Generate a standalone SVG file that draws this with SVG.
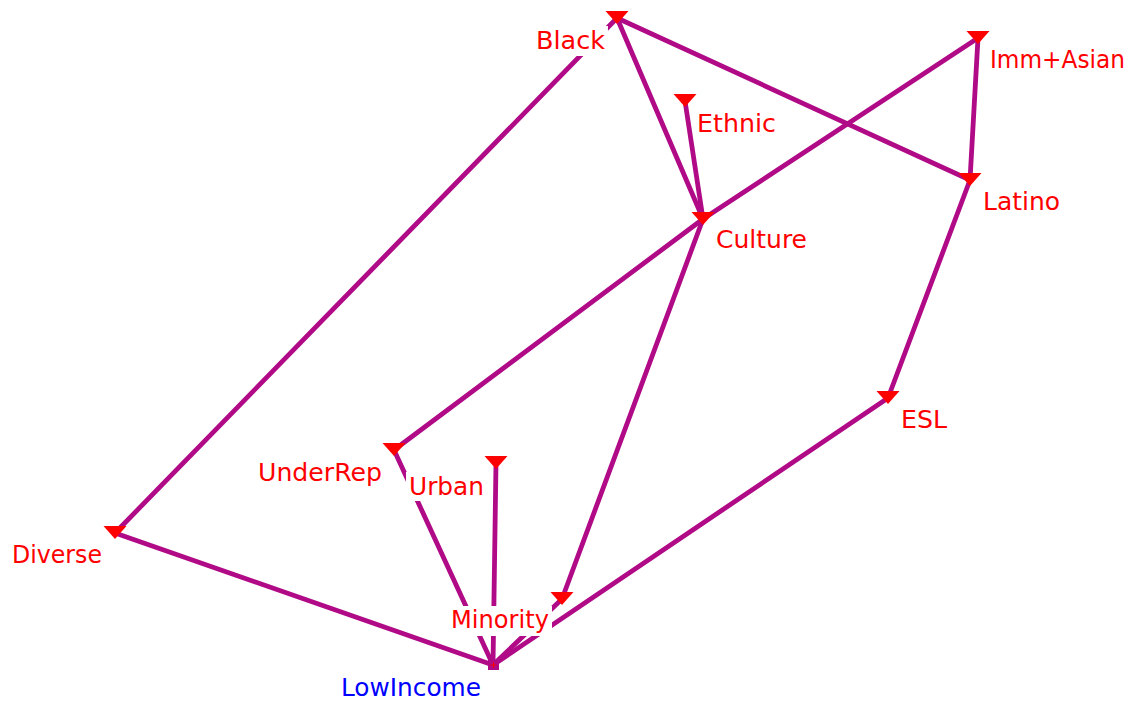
<svg xmlns="http://www.w3.org/2000/svg" width="1135" height="703" viewBox="0 0 1135 703">
<style>
.e{stroke:#b00a87;stroke-width:4.8;stroke-linecap:round;fill:none}
.t{fill:#ff0000;stroke:none}
.bg{fill:#ffffff;stroke:none}
.l{font-family:"DejaVu Sans","Liberation Sans",sans-serif;font-size:25px;fill:#ff0000}
.b{fill:#0000ff}
</style>
<defs>
<path id="tri" d="M-11.5,-7 L11.5,-7 L0,6 Z" class="t"/>
</defs>
<rect width="1135" height="703" fill="#ffffff"/>
<g id="edges">
<line class="e" x1="617" y1="18" x2="115" y2="533"/>
<line class="e" x1="617" y1="18" x2="703" y2="219"/>
<line class="e" x1="617" y1="18" x2="970" y2="180"/>
<line class="e" x1="685" y1="101" x2="703" y2="219"/>
<line class="e" x1="978" y1="38" x2="703" y2="219"/>
<line class="e" x1="703" y1="219" x2="394" y2="450"/>
<line class="e" x1="978" y1="38" x2="970" y2="180"/>
<line class="e" x1="970" y1="180" x2="888" y2="398"/>
<line class="e" x1="888" y1="398" x2="493" y2="665"/>
<line class="e" x1="703" y1="219" x2="562" y2="599"/>
<line class="e" x1="394" y1="450" x2="493" y2="665"/>
<line class="e" x1="496" y1="463" x2="493" y2="665"/>
<line class="e" x1="115" y1="533" x2="493" y2="665"/>
<line class="e" x1="562" y1="599" x2="493" y2="665"/>
</g>
<g id="Black"><rect class="bg" x="533" y="26" width="75" height="30"/><text class="l" x="536" y="49" textLength="69" lengthAdjust="spacingAndGlyphs">Black</text><use href="#tri" x="617" y="18"/></g>
<g id="Ethnic"><rect class="bg" x="694" y="109" width="85" height="30"/><text class="l" x="697" y="132" textLength="79" lengthAdjust="spacingAndGlyphs">Ethnic</text><use href="#tri" x="685" y="101"/></g>
<g id="ImmAsian"><rect class="bg" x="987" y="45" width="142" height="30"/><text class="l" x="990" y="68" textLength="135" lengthAdjust="spacingAndGlyphs">Imm+Asian</text><use href="#tri" x="978" y="38"/></g>
<g id="Latino"><rect class="bg" x="980" y="187" width="84" height="30"/><text class="l" x="983" y="210" textLength="77" lengthAdjust="spacingAndGlyphs">Latino</text><use href="#tri" x="970" y="180"/></g>
<g id="Culture"><rect class="bg" x="713" y="225" width="98" height="30"/><text class="l" x="716" y="248" textLength="91" lengthAdjust="spacingAndGlyphs">Culture</text><use href="#tri" x="703" y="219"/></g>
<g id="ESL"><rect class="bg" x="898" y="405" width="52" height="30"/><text class="l" x="901" y="428" textLength="46" lengthAdjust="spacingAndGlyphs">ESL</text><use href="#tri" x="888" y="398"/></g>
<g id="UnderRep"><rect class="bg" x="255" y="458" width="130" height="30"/><text class="l" x="258" y="481" textLength="124" lengthAdjust="spacingAndGlyphs">UnderRep</text><use href="#tri" x="394" y="450"/></g>
<g id="Urban"><rect class="bg" x="406" y="472" width="81" height="29"/><text class="l" x="409" y="495" textLength="75" lengthAdjust="spacingAndGlyphs">Urban</text><use href="#tri" x="496" y="463"/></g>
<g id="Diverse"><rect class="bg" x="9" y="540" width="97" height="30"/><text class="l" x="12" y="563" textLength="90" lengthAdjust="spacingAndGlyphs">Diverse</text><use href="#tri" x="115" y="533"/></g>
<g id="Minority"><rect class="bg" x="448" y="606" width="104" height="30"/><text class="l" x="451" y="628" textLength="98" lengthAdjust="spacingAndGlyphs">Minority</text><use href="#tri" x="562" y="599"/></g>
<g id="LowIncome"><text class="l b" x="341" y="696" textLength="140" lengthAdjust="spacingAndGlyphs">LowIncome</text><rect x="488" y="660" width="11" height="10" fill="#b00a87"/><path d="M490.5,665 h6 M493.5,662 v6" stroke="#ff0000" stroke-width="1"/></g>
</svg>
